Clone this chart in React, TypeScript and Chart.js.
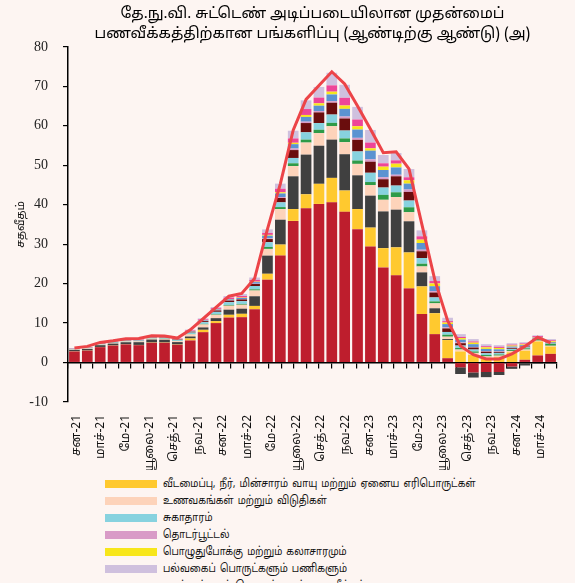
import React, { useEffect, useRef } from 'react';
import { Chart, registerables } from 'chart.js';
Chart.register(...registerables);

const BG = '#FDF5F2';
const TAMIL = "'Noto Sans Tamil', 'Lohit Tamil', 'Latha', 'Noto Sans', sans-serif";

const months = ['Jan-21','Feb-21','Mar-21','Apr-21','May-21','Jun-21','Jul-21','Aug-21','Sep-21','Oct-21','Nov-21','Dec-21',
  'Jan-22','Feb-22','Mar-22','Apr-22','May-22','Jun-22','Jul-22','Aug-22','Sep-22','Oct-22','Nov-22','Dec-22',
  'Jan-23','Feb-23','Mar-23','Apr-23','May-23','Jun-23','Jul-23','Aug-23','Sep-23','Oct-23','Nov-23','Dec-23',
  'Jan-24','Feb-24'];

const tickLabels = ['சன-21','மாச்-21','மே-21','யூலை-21','செத்-21','நவ-21','சன-22','மாச்-22','மே-22','யூலை-22',
  'செத்-22','நவ-22','சன-23','மாச்-23','மே-23','யூலை-23','செத்-23','நவ-23','சன-24','மாச்-24'];

const titleLines = ['தே.நு.வி. சுட்டெண் அடிப்படையிலான முதன்மைப்', 'பணவீக்கத்திற்கான பங்களிப்பு (ஆண்டிற்கு ஆண்டு) (அ)'];
const yTitle = 'சதவீதம்';

// contributions (percentage points)
const food = [2.8,3.0,3.9,4.3,4.6,4.4,5.0,5.0,4.5,5.6,7.7,10.0,11.4,11.5,13.5,21.0,27.1,35.9,39.1,40.2,40.6,38.2,33.8,29.4,24.1,22.1,18.8,12.3,7.2,1.1,-1.2,-2.5,-2.4,-2.4,-1.0,0.7,1.8,2.2];
const housing = [0.05,0.05,0.05,0.05,0.05,0.06,0.08,0.08,0.08,0.5,0.6,0.5,0.7,0.85,0.85,1.5,2.8,3.0,3.55,5.1,6.2,5.4,5.1,4.8,4.9,7.1,9.1,7.0,5.3,4.6,2.8,1.95,1.1,1.35,2.6,2.3,3.55,1.85];
const transport = [0.35,0.4,0.45,0.45,0.5,0.7,0.75,0.7,0.6,0.5,0.6,0.75,1.3,1.3,2.45,4.6,6.3,8.3,10.05,9.65,9.7,9.2,8.55,8.1,9.3,9.55,7.9,3.55,1.25,0.25,-1.7,-1.3,-1.3,-0.75,-0.6,-0.75,-0.3,-0.3];
const restaurants = [0.1,0.12,0.15,0.15,0.17,0.2,0.22,0.22,0.25,0.55,0.75,0.85,1.0,1.0,1.45,1.7,2.7,2.6,3.05,3.2,3.4,3.05,2.9,2.7,2.95,3.2,2.3,1.5,1.25,0.6,0.5,0.5,0.45,0.4,0.3,0.3,0.2,0.2];
const clothing = [0.02,0.03,0.03,0.03,0.04,0.04,0.05,0.05,0.05,0.1,0.15,0.15,0.2,0.2,0.3,0.5,0.5,0.7,0.75,0.85,0.85,0.95,0.85,0.75,1.25,1.2,1.25,0.7,0.5,0.5,0.4,0.35,0.35,0.3,0.25,0.3,0.4,0.5];
const health = [0.1,0.1,0.12,0.14,0.15,0.18,0.2,0.2,0.22,0.35,0.45,0.6,0.7,0.7,0.85,1.2,1.2,1.35,1.85,1.7,2.1,2.0,2.3,2.35,1.85,1.7,1.7,1.45,1.0,0.7,0.6,0.5,0.45,0.4,0.3,0.25,0.1,0.15];
const furnishing = [0.03,0.04,0.05,0.05,0.06,0.07,0.08,0.08,0.1,0.2,0.25,0.35,0.4,0.45,0.5,0.8,1.1,2.0,2.35,2.7,3.0,3.05,2.95,2.8,2.1,2.35,2.2,1.7,1.25,0.9,0.6,0.5,0.4,0.25,0.2,0.2,0.1,0.1];
const communication = [0.01,0.01,0.01,0.01,0.01,0.01,0.02,0.02,0.02,0.03,0.04,0.05,0.06,0.06,0.08,0.15,0.25,0.4,0.35,0.35,0.4,0.5,0.5,0.6,0.5,0.4,0.6,0.4,0.35,0.25,0.2,0.15,0.15,0.15,0.1,0.1,0.05,0.05];
const education = [0.05,0.05,0.05,0.06,0.06,0.07,0.08,0.08,0.08,0.12,0.15,0.2,0.25,0.3,0.4,0.7,0.9,1.1,1.2,1.35,1.7,1.95,2.1,2.2,1.85,1.85,1.5,1.7,1.25,0.85,0.7,0.7,0.55,0.5,0.3,0.25,0.1,0.15];
const recreation = [0.01,0.01,0.02,0.02,0.02,0.02,0.03,0.03,0.03,0.05,0.06,0.08,0.1,0.1,0.12,0.2,0.3,0.35,0.5,0.6,0.7,0.85,0.85,0.6,0.85,0.95,0.85,0.85,0.7,0.4,0.4,0.4,0.4,0.35,0.25,0.2,0.1,0.2];
const alcohol = [0.05,0.06,0.07,0.08,0.08,0.1,0.12,0.12,0.12,0.15,0.2,0.25,0.35,0.4,0.45,0.5,0.9,1.1,1.5,1.45,1.6,1.95,1.7,1.45,0.85,0.85,0.75,0.85,0.6,0.35,0.3,0.3,0.3,0.3,0.25,0.25,0.3,0.25];
const misc = [0.1,0.12,0.12,0.12,0.13,0.14,0.15,0.15,0.15,0.2,0.25,0.3,0.4,0.5,0.6,0.9,1.3,1.95,2.2,2.7,3.2,3.3,3.2,3.2,2.1,1.85,2.1,1.5,1.25,0.85,0.7,0.6,0.5,0.4,0.35,0.3,0.2,0.3];
const headline = [3.7,4.1,5.1,5.5,6.0,6.1,6.8,6.7,6.2,8.3,11.1,14.0,16.8,17.5,21.3,33.8,45.3,58.9,66.7,70.2,73.7,70.6,65.0,59.2,53.2,53.4,49.1,35.0,21.0,10.6,4.2,2.0,0.9,0.9,2.2,4.1,6.4,5.0];

const seriesLabels = {
  food: 'உணவு மற்றும் மதுசாரமற்ற பானங்கள்',
  housing: 'வீடமைப்பு, நீர், மின்சாரம் வாயு மற்றும் ஏனைய எரிபொருட்கள்',
  transport: 'போக்குவரத்து',
  restaurants: 'உணவகங்கள் மற்றும் விடுதிகள்',
  clothing: 'ஆடைகள் மற்றும் காலணிகள்',
  health: 'சுகாதாரம்',
  furnishing: 'தளபாடங்கள் மற்றும் வீட்டு உபகரணங்கள்',
  communication: 'தொடர்பூட்டல்',
  education: 'கல்வி',
  recreation: 'பொழுதுபோக்கு மற்றும் கலாசாரமும்',
  alcohol: 'மதுசாரப் பானங்கள் மற்றும் புகையிலை',
  misc: 'பல்வகைப் பொருட்களும் பணிகளும்',
  headline: 'ஆண்டிற்காண்டு முதன்மைப் பணவீக்கம்',
};

const colors = {
  food: '#BE1E2D',
  housing: '#FFC92F',
  transport: '#404040',
  restaurants: '#FDD3BA',
  clothing: '#2E9B48',
  health: '#87D2DF',
  furnishing: '#6A0D0D',
  communication: '#D99BC7',
  education: '#5B93D1',
  recreation: '#F7E61B',
  alcohol: '#EE4598',
  misc: '#CFC0DE',
  headline: '#EC4448',
};

const stackOrder: [keyof typeof colors, number[]][] = [
  ['food', food], ['housing', housing], ['transport', transport], ['restaurants', restaurants],
  ['clothing', clothing], ['health', health], ['furnishing', furnishing], ['communication', communication],
  ['education', education], ['recreation', recreation], ['alcohol', alcohol], ['misc', misc],
];

const legendOrder: (keyof typeof colors)[] = ['housing', 'restaurants', 'health', 'communication', 'recreation', 'misc', 'headline',
  'food', 'transport', 'clothing', 'furnishing', 'education', 'alcohol'];

export default function App() {
  const ref = useRef<HTMLCanvasElement>(null);
  useEffect(() => {
    document.body.style.margin = '0';
    document.body.style.background = BG;
    document.body.style.overflow = 'hidden';
    const datasets: any[] = stackOrder.map(([k, d]) => ({
      type: 'bar', label: seriesLabels[k], data: d, backgroundColor: colors[k],
      borderWidth: 0, stack: 'cpi', order: 1, categoryPercentage: 1, barPercentage: 0.83,
    }));
    datasets.push({
      type: 'line', label: seriesLabels.headline, data: headline, borderColor: colors.headline,
      borderWidth: 3, pointRadius: 0, tension: 0, fill: false, stack: 'line', order: 0,
    });
    const chart = new Chart(ref.current!, {
      type: 'bar',
      data: { labels: months, datasets },
      options: {
        responsive: false,
        animation: false,
        layout: { padding: { left: 0, right: 18, top: 0, bottom: 0 } },
        plugins: {
          legend: { display: false },
          tooltip: { enabled: false },
          title: {
            display: true, text: titleLines, fullSize: false, color: '#000',
            font: { family: TAMIL, size: 15, weight: 'normal', lineHeight: 1.33 },
            padding: { top: 5, bottom: 2 },
          },
        },
        scales: {
          x: { type: 'category', display: false, stacked: true, offset: true },
          xTicks: {
            type: 'linear', position: { y: 0 } as any, min: 0, max: 38,
            ticks: { display: false, stepSize: 1, maxTicksLimit: 100, autoSkip: false },
            grid: { drawOnChartArea: false, drawTicks: true, tickLength: 5, color: '#000', lineWidth: 1.2 },
            border: { display: true, color: '#000', width: 1.5 },
          },
          xLabels: {
            type: 'linear', position: 'bottom', min: 0, max: 38,
            afterFit: (s: any) => { s.height = 68; },
            ticks: {
              stepSize: 2, maxTicksLimit: 100, autoSkip: false, maxRotation: 90, minRotation: 90, padding: 13,
              labelOffset: -3,
              color: '#111', font: { family: TAMIL, size: 12 },
              callback: (v: any) => tickLabels[Math.round(Number(v) / 2)] ?? '',
            },
            grid: { display: false, drawTicks: false },
            border: { display: false },
          },
          y: {
            type: 'linear', stacked: true, min: -10, max: 80,
            afterFit: (s: any) => { s.width = 68; },
            ticks: { stepSize: 10, padding: 15, color: '#222', font: { family: "'Liberation Serif', 'Times New Roman', serif", size: 14 } },
            grid: { drawOnChartArea: false, drawTicks: true, tickLength: 5, color: '#000', lineWidth: 1.2 },
            border: { display: true, color: '#000', width: 1.5 },
            title: { display: true, text: yTitle, color: '#111', font: { family: TAMIL, size: 11 }, padding: { top: 15, bottom: 0 } },
          },
        },
      } as any,
    });
    return () => chart.destroy();
  }, []);

  return (
    <div style={{ position: 'relative', width: 575, height: 583, overflow: 'hidden', background: BG }}>
      <canvas ref={ref} width={575} height={470} style={{ position: 'absolute', left: 0, top: 0, width: 575, height: 470 }} />
      <div style={{ position: 'absolute', left: 0, top: 475 }}>
        {legendOrder.map((k) => (
          <div key={k} style={{ display: 'flex', alignItems: 'center', height: 17 }}>
            <span style={{ display: 'inline-block', flex: 'none', marginLeft: 105, width: 52, height: k === 'headline' ? 3 : 8, background: colors[k] }} />
            <span style={{ display: 'inline-block', marginLeft: 6, fontFamily: TAMIL, fontSize: 11.5, wordSpacing: 2, color: '#111', whiteSpace: 'nowrap', transform: 'scaleX(0.82)', transformOrigin: 'left center' }}>{seriesLabels[k]}</span>
          </div>
        ))}
      </div>
    </div>
  );
}
